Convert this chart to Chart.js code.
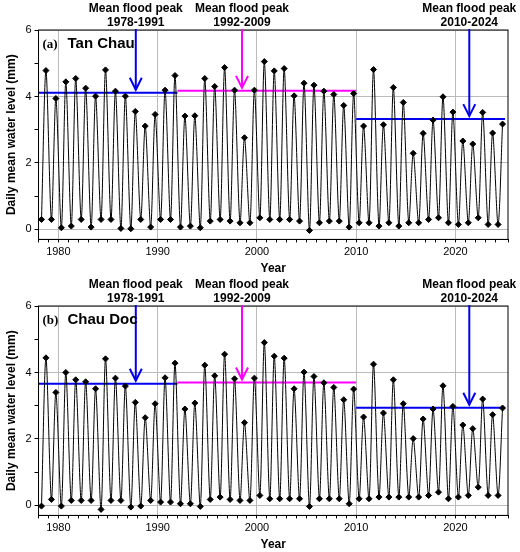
<!DOCTYPE html>
<html><head><meta charset="utf-8">
<script src="https://cdn.jsdelivr.net/npm/chart.js@4"></script>
<style>
body{margin:0;background:#fff;width:520px;height:552px;overflow:hidden}
.box{position:relative;width:520px;height:276px}
</style></head><body>
<div class="box"><canvas id="cA"></canvas></div>
<div class="box"><canvas id="cB"></canvas></div>
<script>
const years = [];
for (let y = 1978; y <= 2024; y++) years.push(y);

// annual flood peaks and dry-season minima (m)
const peaksTanChau = [4.78,3.94,4.44,4.54,4.25,4.01,4.80,4.16,4.01,3.55,3.11,3.46,4.19,4.63,3.41,3.42,4.54,4.30,4.87,4.19,2.76,4.19,5.05,4.77,4.84,4.02,4.40,4.34,4.16,4.06,3.73,4.09,3.11,4.81,3.15,4.27,3.82,2.29,2.89,3.29,3.99,3.53,2.66,2.57,3.52,2.90,3.17];
const minsTanChau = [0.3,0.3,0.05,0.1,0.3,0.07,0.3,0.3,0.03,0.02,0.3,0.07,0.3,0.3,0.07,0.1,0.05,0.25,0.3,0.25,0.2,0.2,0.35,0.3,0.3,0.3,0.25,-0.03,0.2,0.25,0.25,0.07,0.2,0.2,0.1,0.2,0.1,0.2,0.2,0.3,0.35,0.2,0.15,0.2,0.35,0.15,0.15];
const peaksChauDoc = [4.44,3.40,4.00,3.78,3.72,3.51,4.41,3.83,3.59,3.10,2.64,3.06,3.84,4.28,2.90,3.08,4.22,3.90,4.55,3.81,2.49,3.83,4.90,4.49,4.43,3.51,4.01,3.88,3.69,3.55,3.18,3.50,2.66,4.25,2.78,3.78,3.06,2.01,2.60,2.90,3.60,2.98,2.42,2.31,3.20,2.73,2.93];
const minsChauDoc = [-0.02,0.18,-0.02,0.15,0.15,0.15,-0.12,0.15,0.15,-0.05,-0.02,0.15,0.1,0.1,0.05,0.05,-0.03,0.18,0.25,0.18,0.15,0.15,0.3,0.2,0.2,0.2,0.2,-0.03,0.2,0.2,0.2,0.05,0.2,0.2,0.25,0.25,0.25,0.25,0.25,0.3,0.4,0.2,0.25,0.3,0.55,0.3,0.3];

const periods = ['1978-1991', '1992-2009', '2010-2024'];
const periodStart = [1978, 1992, 2010];
const periodEnd = [1992, 2010, 2025];
const meansTanChau = [4.11, 4.17, 3.32];
const meansChauDoc = [3.66, 3.70, 2.94];
const arrowYear = [1987.8, 1998.5, 2021.4];
const periodColors = ['#0000ee', '#ff00ff', '#0000ee'];

function makeChart(id, name, letter, peaks, mins, means) {
  const line = [], peakPts = [], minPts = [];
  years.forEach((y, i) => {
    line.push({x: y + 0.3, y: mins[i]});
    line.push({x: y + 0.75, y: peaks[i]});
    minPts.push({x: y + 0.3, y: mins[i]});
    peakPts.push({x: y + 0.75, y: peaks[i]});
  });
  const meanSets = means.map((m, i) => ({
    type: 'line', data: [{x: periodStart[i], y: m}, {x: periodEnd[i], y: m}],
    borderColor: periodColors[i], borderWidth: 2, pointRadius: 0
  }));

  const annot = {
    id: 'annot',
    afterDatasetsDraw(chart) {
      const {ctx, scales: {x, y}, chartArea} = chart;
      ctx.save();
      // frame
      ctx.strokeStyle = '#000';
      ctx.lineWidth = 1;
      ctx.strokeRect(chartArea.left, chartArea.top, chartArea.width, chartArea.height);
      ctx.font = 'bold 12px "Liberation Sans", Arial';
      ctx.textAlign = 'center';
      ctx.fillStyle = '#000';
      for (let i = 0; i < 3; i++) {
        const px = x.getPixelForValue(arrowYear[i]);
        ctx.fillText('Mean flood peak', px, 12);
        ctx.fillText(periods[i], px, 26);
        const tip = y.getPixelForValue(means[i]) - 3;
        ctx.strokeStyle = periodColors[i];
        ctx.lineWidth = 2;
        ctx.beginPath(); ctx.moveTo(px, 29); ctx.lineTo(px, tip); ctx.stroke();
        ctx.beginPath(); ctx.moveTo(px - 6, tip - 12); ctx.lineTo(px, tip); ctx.lineTo(px + 6, tip - 12); ctx.stroke();
      }
      ctx.textAlign = 'left';
      ctx.font = 'bold 13px "Liberation Serif", serif';
      ctx.fillText(letter, chartArea.left + 4, chartArea.top + 18);
      ctx.font = 'bold 15px "Liberation Sans", Arial';
      ctx.fillText(name, chartArea.left + 29, chartArea.top + 18);
      ctx.restore();
    }
  };

  new Chart(document.getElementById(id), {
    type: 'scatter',
    data: {datasets: [
      {type: 'line', data: line, borderColor: '#000', borderWidth: 1, pointRadius: 0, tension: 0.3},
      {data: peakPts, pointStyle: 'rectRot', pointRadius: 3, backgroundColor: '#000', borderColor: '#000'},
      {data: minPts, pointStyle: 'rectRot', pointRadius: 3, backgroundColor: '#000', borderColor: '#000'},
      ...meanSets
    ]},
    options: {
      animation: false, responsive: true, maintainAspectRatio: false,
      layout: {padding: {top: 30, right: 12, left: 0}},
      plugins: {legend: {display: false}, tooltip: {enabled: false}},
      scales: {
        x: {
          type: 'linear', min: 1978, max: 2025.3,
          ticks: {stepSize: 1, autoSkip: false, maxRotation: 0, color: '#000',
            font: {size: 11, family: 'Liberation Sans'},
            callback: v => v % 10 === 0 ? v : ''},
          grid: {color: c => c.tick && c.tick.value % 10 === 0 ? '#bbb' : 'rgba(0,0,0,0)',
            tickColor: '#000', tickLength: 3},
          border: {color: '#000'},
          title: {display: true, text: 'Year', color: '#000', padding: 0,
            font: {size: 12, weight: 'bold', family: 'Liberation Sans'}}
        },
        y: {
          min: -0.3, max: 6,
          afterBuildTicks: s => { s.ticks = [0,1,2,3,4,5,6].map(v => ({value: v})); },
          ticks: {color: '#000', font: {size: 11, family: 'Liberation Sans'},
            callback: v => v % 2 === 0 ? v : ''},
          grid: {color: c => c.tick && c.tick.value % 2 === 0 ? '#bbb' : 'rgba(0,0,0,0)',
            tickColor: '#000', tickLength: 4},
          border: {color: '#000'},
          title: {display: true, text: 'Daily mean water level (mm)', color: '#000',
            font: {size: 12, weight: 'bold', family: 'Liberation Sans'}}
        }
      }
    },
    plugins: [annot]
  });
}

makeChart('cA', 'Tan Chau', '(a)', peaksTanChau, minsTanChau, meansTanChau);
makeChart('cB', 'Chau Doc', '(b)', peaksChauDoc, minsChauDoc, meansChauDoc);
</script>
</body></html>
